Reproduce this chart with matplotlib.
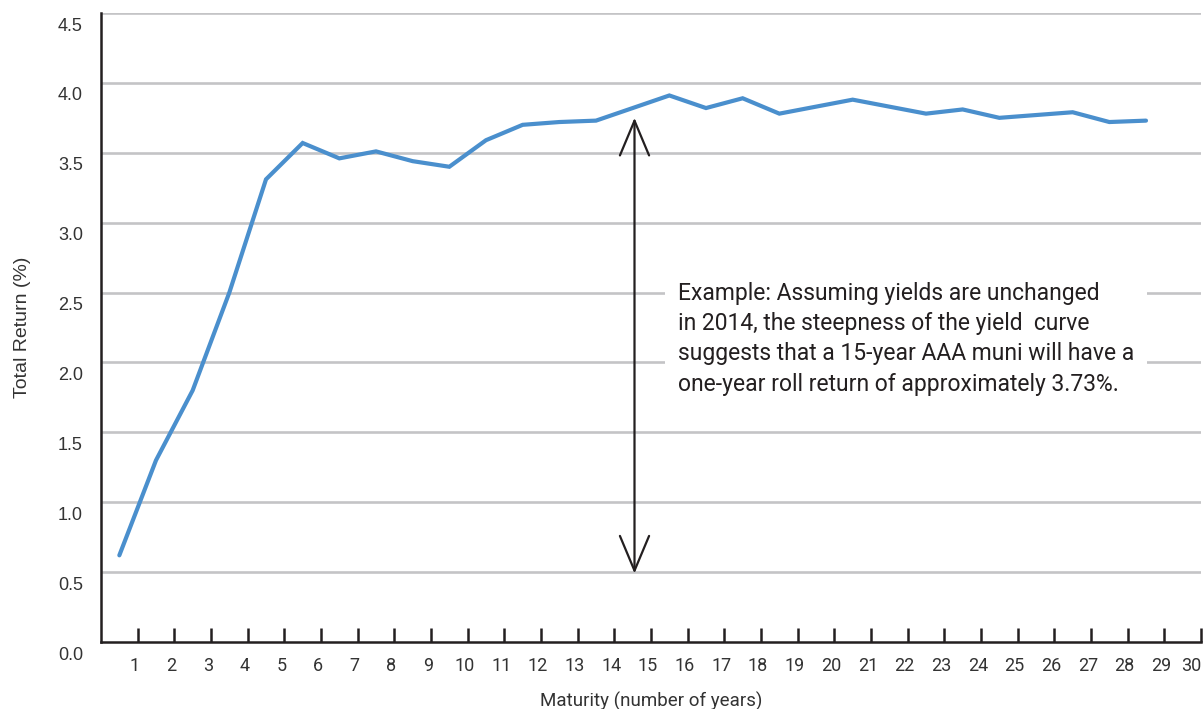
import matplotlib
matplotlib.use("Agg")
import matplotlib.pyplot as plt
import matplotlib.transforms as mtransforms
import numpy as np

# one-year roll return by maturity (years), AAA muni curve
maturity = [0.5, 1.5, 2.5, 3.5, 4.5, 5.5, 6.5, 7.5, 8.5, 9.5,
            10.5, 11.5, 12.5, 13.5, 14.5, 15.5, 16.5, 17.5, 18.5, 19.5,
            20.5, 21.5, 22.5, 23.5, 24.5, 25.5, 26.5, 27.5, 28.5]
total_return = [0.62, 1.30, 1.80, 2.50, 3.31, 3.57, 3.46, 3.51, 3.44, 3.40,
                3.59, 3.70, 3.72, 3.73, 3.82, 3.91, 3.82, 3.89, 3.78, 3.83,
                3.88, 3.83, 3.78, 3.81, 3.75, 3.77, 3.79, 3.72, 3.73]

x_ticks = list(range(1, 31))
y_ticks = [0.0, 0.5, 1.0, 1.5, 2.0, 2.5, 3.0, 3.5, 4.0, 4.5]

arrow_x = 14.55
arrow_span = (0.49, 3.75)
note = ("Example: Assuming yields are unchanged\n"
        "in 2014, the steepness of the yield  curve\n"
        "suggests that a 15-year AAA muni will have a\n"
        "one-year roll return of approximately 3.73%.")

ink = "#231f20"
label_grey = "#333333"
plt.rcParams['font.family'] = ['Roboto', 'DejaVu Sans']

fig = plt.figure(figsize=(12.04, 7.09), dpi=100)
ax = fig.add_axes([101 / 1204, 1 - 642 / 709, 1100 / 1204, 629 / 709])

# horizontal gridlines, skipping the baseline
for y in y_ticks[1:]:
    ax.axhline(y, color="#c4c4c6", lw=1.9, zorder=1)

ax.plot(maturity, total_return, color="#4a8fcd", lw=3.0,
        solid_joinstyle="miter", solid_capstyle="round", zorder=3)

# double-headed arrow with open heads
ax.annotate("", xy=(arrow_x, arrow_span[1]), xytext=(arrow_x, arrow_span[0]),
            arrowprops=dict(arrowstyle="<->,head_length=2.5,head_width=1.05",
                            color=ink, lw=1.6, shrinkA=0, shrinkB=0),
            zorder=4)

ax.text(15.73, 2.17, note, fontsize=16.5, color=ink, linespacing=1.41,
        va="center", ha="left", zorder=5,
        bbox=dict(facecolor="white", edgecolor="none", pad=9))

ax.set_xlim(0, 30)
ax.set_ylim(0, 4.5)

for side in ("top", "right"):
    ax.spines[side].set_visible(False)
for side in ("left", "bottom"):
    ax.spines[side].set_color(ink)
    ax.spines[side].set_linewidth(1.8)

ax.set_xticks(x_ticks)
ax.set_xticklabels([str(t) for t in x_ticks])
ax.tick_params(axis="x", direction="in", length=10, width=1.8, color=ink,
               pad=11, labelsize=13, labelcolor=label_grey)
xshift = mtransforms.ScaledTranslation(-3 / 100, 0, fig.dpi_scale_trans)
last_shift = mtransforms.ScaledTranslation(-10 / 100, 0, fig.dpi_scale_trans)
xlabels = ax.get_xticklabels()
for lbl in xlabels[:-1]:
    lbl.set_transform(lbl.get_transform() + xshift)
xlabels[-1].set_transform(xlabels[-1].get_transform() + last_shift)

ax.set_yticks(y_ticks)
ax.set_yticklabels([f"{t:.1f}" for t in y_ticks], family="Liberation Sans")
ax.tick_params(axis="y", length=0, pad=13, labelsize=13, labelcolor=label_grey)
yshift = mtransforms.ScaledTranslation(0, -11 / 100, fig.dpi_scale_trans)
for lbl in ax.get_yticklabels():
    lbl.set_transform(lbl.get_transform() + yshift)

ax.set_xlabel("Maturity (number of years)", fontsize=13.5, color=label_grey,
              labelpad=12)
ax.set_ylabel("Total Return (%)", fontsize=14, color=label_grey,
              family="Liberation Sans", labelpad=19.5)

fig.savefig("out.png", dpi=100)
